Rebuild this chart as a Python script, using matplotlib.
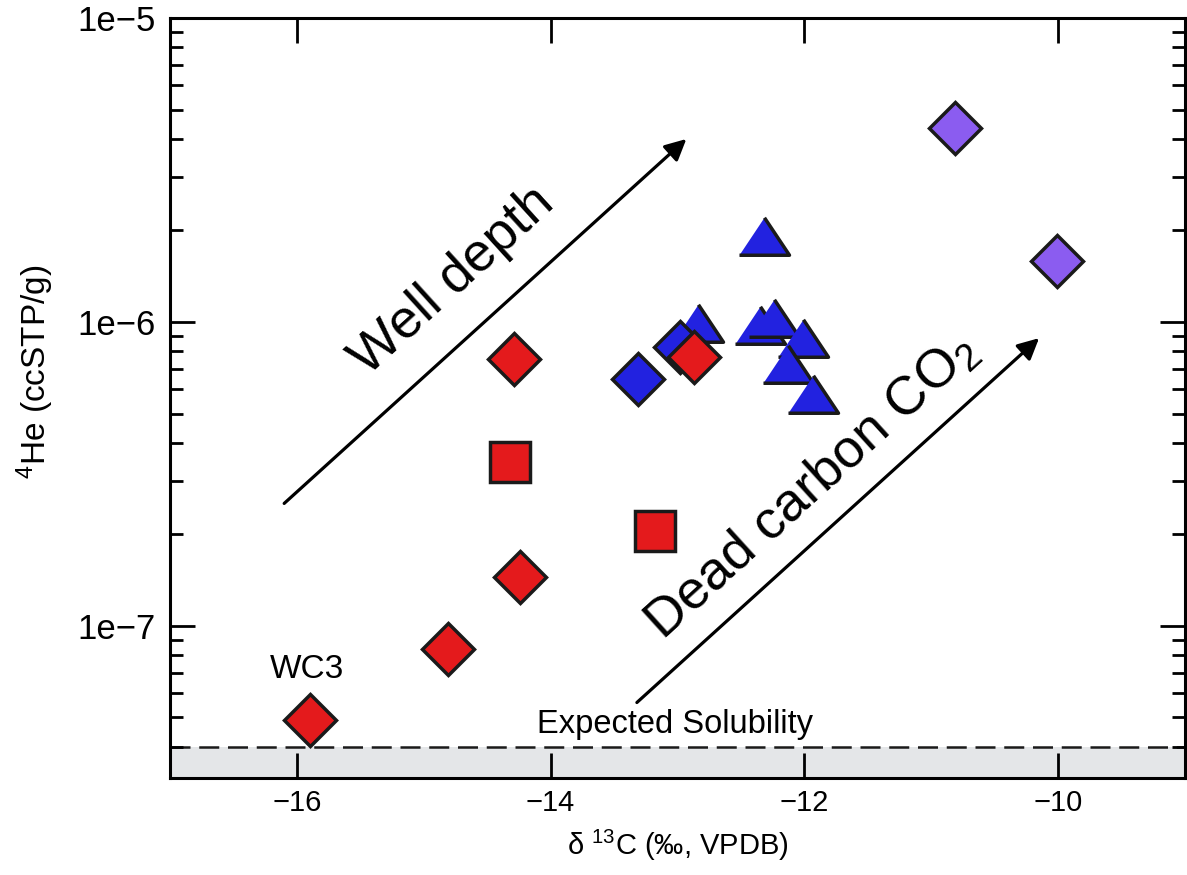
import numpy as np
import matplotlib
matplotlib.use("Agg")
import matplotlib.pyplot as plt
from matplotlib.ticker import FixedLocator, LogLocator, FuncFormatter, NullFormatter

plt.rcParams['font.family'] = ['Liberation Sans', 'DejaVu Sans']
plt.rcParams['mathtext.fontset'] = 'custom'
plt.rcParams['mathtext.rm'] = 'Liberation Sans'
plt.rcParams['mathtext.it'] = 'Liberation Sans:italic'

# d13C (permil VPDB) and 4He (ccSTP/g) per sample group
red_dia_x = [-15.9, -14.81, -14.24, -14.29]
red_dia_y = [4.9e-8, 8.4e-8, 1.45e-7, 7.55e-7]
red_sq_x = [-14.32, -13.18]
red_sq_y = [3.45e-7, 2.06e-7]
blue_tri_x = [-12.32, -12.84, -12.35, -12.24, -12.01, -12.13, -11.93]
blue_tri_y = [1.92e-6, 9.9e-7, 9.8e-7, 1.03e-6, 8.85e-7, 7.26e-7, 5.8e-7]
blue_dia_x = [-13.31, -12.98]
blue_dia_y = [6.5e-7, 8.3e-7]
red_dia2_x = [-12.87]
red_dia2_y = [7.7e-7]
purple_x = [-10.81, -10.01]
purple_y = [4.34e-6, 1.59e-6]

solubility = 4.0e-8
x_ticks = [-16, -14, -12, -10]

RED = '#e41a1c'
BLUE = '#2222e0'
PURPLE = '#8b5cf0'
EDGE = '#1a1a1a'

fig = plt.figure(figsize=(11.87, 8.75), dpi=100)
ax = fig.add_axes([0.1432, 0.1109, 0.8551, 0.8685])
ax.set_yscale('log')
ax.set_xlim(-17, -9)
ax.set_ylim(10 ** -7.5, 1e-5)

# shaded band below expected solubility
ax.axhspan(10 ** -7.5, solubility, color='#e4e6e8', zorder=0, lw=0)
ax.axhline(solubility, color='#1a1a1a', lw=1.8, ls=(0, (8, 3.5)), zorder=1)

tri = [(-1, -0.75), (1, -0.75), (0, 0.75)]
mk = dict(ls='none', mec=EDGE, mew=2.5)
ax.plot(blue_tri_x, blue_tri_y, marker=tri, ms=36, mfc=BLUE, zorder=3, **mk)
ax.plot(blue_dia_x, blue_dia_y, marker='D', ms=26, mfc=BLUE, zorder=4, **mk)
ax.plot(red_dia_x, red_dia_y, marker='D', ms=26, mfc=RED, zorder=4, **mk)
ax.plot(red_dia2_x, red_dia2_y, marker='D', ms=26, mfc=RED, zorder=5, **mk)
ax.plot(red_sq_x, red_sq_y, marker='s', ms=28.5, mfc=RED, zorder=4, **mk)
ax.plot(purple_x, purple_y, marker='D', ms=26, mfc=PURPLE, zorder=4, **mk)

# trend arrows
arrow = dict(arrowstyle='-|>', color='black', lw=2.3, mutation_scale=32,
             shrinkA=0, shrinkB=0)
ax.annotate('', xy=(-12.93, 4.0e-6), xytext=(-16.1, 2.53e-7), arrowprops=arrow)
ax.annotate('', xy=(-10.15, 8.85e-7), xytext=(-13.32, 5.6e-8), arrowprops=arrow)

ax.text(-14.77, 1.36e-6, 'Well depth', fontsize=39, rotation=42.2,
        rotation_mode='anchor', ha='center', va='center')
ax.text(-11.94, 2.88e-7, 'Dead carbon CO$_2$', fontsize=39, rotation=42.2,
        rotation_mode='anchor', ha='center', va='center')
ax.text(-15.92, 6.4e-8, 'WC3', fontsize=24, ha='center', va='bottom')
ax.text(-13.02, 4.22e-8, 'Expected Solubility', fontsize=23.5, ha='center',
        va='bottom')

ax.xaxis.set_major_locator(FixedLocator(x_ticks))
ax.xaxis.set_major_formatter(FuncFormatter(lambda v, p: f'{v:.0f}'.replace('-', '\u2212')))
ax.yaxis.set_major_locator(LogLocator(base=10))
ax.yaxis.set_minor_locator(LogLocator(base=10, subs=np.arange(2, 10)))
ax.yaxis.set_major_formatter(FuncFormatter(lambda v, p: f'1e\u2212{-int(round(np.log10(v)))}'))
ax.yaxis.set_minor_formatter(NullFormatter())

ax.tick_params(which='both', direction='in', top=True, right=True,
               width=2, color='black')
ax.tick_params(which='major', length=18)
ax.tick_params(which='minor', length=9.5)
ax.tick_params(axis='x', labelsize=21, pad=8)
ax.tick_params(axis='y', labelsize=25, pad=10)
for s in ax.spines.values():
    s.set_linewidth(2.2)

ax.set_xlabel('\u03b4 $^{13}$C (\u2030, VPDB)', fontsize=21, labelpad=8)
ax.set_ylabel('$^4$He (ccSTP/g)', fontsize=24)
ax.yaxis.set_label_coords(-0.112, 0.534)

fig.savefig('out.png', dpi=100)
